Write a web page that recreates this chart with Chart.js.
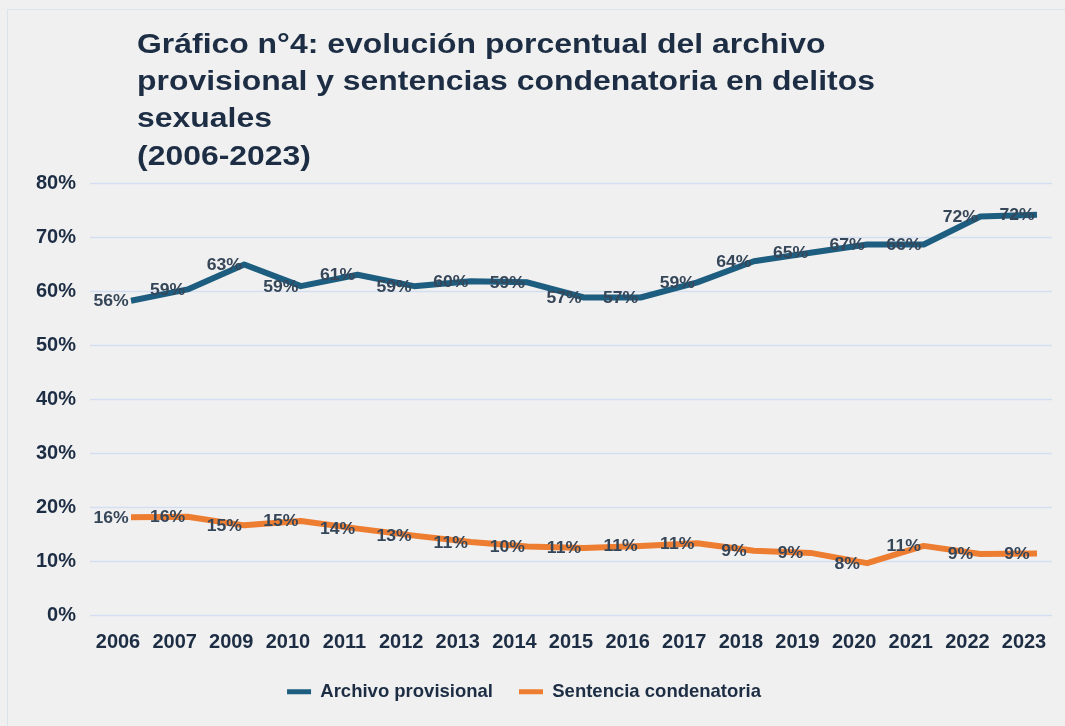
<!DOCTYPE html>
<html>
<head>
<meta charset="utf-8">
<script src="https://cdn.jsdelivr.net/npm/chart.js@4.4.1/dist/chart.umd.min.js"></script>
<style>
  html, body { margin: 0; padding: 0; background: #f0f0f0; }
  #wrap { position: relative; width: 1065px; height: 726px; }
  #frame { position: absolute; left: 7px; top: 9px; right: -2px; bottom: -2px; border-left: 1px solid #dbe3ef; border-top: 1px solid #dbe3ef; pointer-events: none; }
  canvas { position: absolute; left: 0; top: 0; }
</style>
</head>
<body>
<div id="wrap">
  <canvas id="c" width="1065" height="726"></canvas>
  <div id="frame"></div>
</div>
<script>
const titleLines = [
  "Gráfico n°4: evolución porcentual del archivo",
  "provisional y sentencias condenatoria en delitos",
  "sexuales",
  "(2006-2023)"
];
const years = ["2006","2007","2009","2010","2011","2012","2013","2014","2015","2016","2017","2018","2019","2020","2021","2022","2023"];
const seriesNames = ["Archivo provisional", "Sentencia condenatoria"];
const archivoValues = [58.2, 60.3, 64.9, 60.9, 63.0, 60.9, 61.8, 61.6, 58.8, 58.8, 61.6, 65.5, 67.1, 68.6, 68.6, 73.8, 74.1];
const archivoLabels = ["56%","59%","63%","59%","61%","59%","60%","59%","57%","57%","59%","64%","65%","67%","66%","72%","72%"];
const sentenciaValues = [18.1, 18.2, 16.6, 17.4, 16.0, 14.7, 13.5, 12.7, 12.4, 12.8, 13.3, 11.9, 11.5, 9.6, 12.8, 11.3, 11.4];
const sentenciaLabels = ["16%","16%","15%","15%","14%","13%","11%","10%","11%","11%","11%","9%","9%","8%","11%","9%","9%"];
const yTicks = [0, 10, 20, 30, 40, 50, 60, 70, 80];

const COLORS = ["#1d5d7f", "#ed7d31"];
const TEXT = "#1c2d44";
const FONT = "'Liberation Sans', Arial, sans-serif";

const titlePlugin = {
  id: "titleText",
  afterDraw(chart) {
    const ctx = chart.ctx;
    ctx.save();
    ctx.fillStyle = TEXT;
    ctx.font = "bold 28px " + FONT;
    ctx.textAlign = "left";
    ctx.textBaseline = "middle";
    ctx.translate(137, 0);
    ctx.scale(1.14, 1);
    titleLines.forEach((t, i) => ctx.fillText(t, 0, 45 + i * 37.3));
    ctx.restore();
  }
};

const gridPlugin = {
  id: "wideGrid",
  beforeDatasetsDraw(chart) {
    const ctx = chart.ctx;
    const y = chart.scales.y;
    ctx.save();
    ctx.strokeStyle = "#d3def0";
    ctx.lineWidth = 1.5;
    yTicks.forEach(v => {
      const py = Math.round(y.getPixelForValue(v)) + 0.5;
      ctx.beginPath();
      ctx.moveTo(90, py);
      ctx.lineTo(1052, py);
      ctx.stroke();
    });
    ctx.restore();
  }
};

const allLabels = [archivoLabels, sentenciaLabels];
const labelPlugin = {
  id: "pointLabels",
  afterDatasetsDraw(chart) {
    const ctx = chart.ctx;
    ctx.save();
    ctx.fillStyle = "#364659";
    ctx.font = "bold 16px " + FONT;
    ctx.textAlign = "center";
    ctx.textBaseline = "middle";
    chart.data.datasets.forEach((ds, di) => {
      const meta = chart.getDatasetMeta(di);
      meta.data.forEach((pt, i) => {
        ctx.save();
        ctx.translate(pt.x - 20, pt.y + 1);
        ctx.scale(1.1, 1);
        ctx.fillText(allLabels[di][i], 0, 0);
        ctx.restore();
      });
    });
    ctx.restore();
  }
};

new Chart(document.getElementById("c"), {
  type: "line",
  data: {
    labels: years,
    datasets: [
      { label: seriesNames[0], data: archivoValues, borderColor: COLORS[0], backgroundColor: COLORS[0], borderWidth: 6, pointRadius: 0, tension: 0, borderJoinStyle: "round" },
      { label: seriesNames[1], data: sentenciaValues, borderColor: COLORS[1], backgroundColor: COLORS[1], borderWidth: 6, pointRadius: 0, tension: 0, borderJoinStyle: "round" }
    ]
  },
  options: {
    responsive: false,
    animation: false,
    layout: { padding: { left: 0, right: 17, top: 183, bottom: 15 } },
    scales: {
      x: {
        type: "category",
        offset: false,
        grid: { display: false, drawTicks: false },
        border: { display: false },
        ticks: { color: TEXT, font: { family: FONT, size: 20, weight: "bold" }, padding: 15, labelOffset: -13, maxRotation: 0, autoSkip: false },
        afterFit(scale) { scale.height = 41.5; scale.paddingLeft = 0; scale.paddingRight = 0; }
      },
      y: {
        min: 0, max: 80,
        grid: { display: false, drawTicks: false },
        border: { display: false },
        ticks: { stepSize: 10, color: TEXT, font: { family: FONT, size: 20, weight: "bold" }, padding: 55, callback: v => v + "%" },
        afterFit(scale) { scale.width = 131; }
      },
      yRight: {
        position: "right",
        min: 0, max: 80,
        grid: { display: false, drawTicks: false },
        border: { display: false },
        ticks: { display: false },
        afterFit(scale) { scale.width = 11; }
      }
    },
    plugins: {
      title: { display: false },
      tooltip: { enabled: false },
      legend: {
        position: "bottom",
        labels: {
          color: TEXT,
          font: { family: FONT, size: 18.5, weight: "bold" },
          boxWidth: 24,
          boxHeight: 5,
          padding: 26,
          generateLabels(chart) {
            return chart.data.datasets.map((ds, i) => ({
              text: ds.label, fillStyle: ds.borderColor, strokeStyle: ds.borderColor, lineWidth: 0, hidden: false, datasetIndex: i, fontColor: TEXT
            }));
          }
        }
      }
    }
  },
  plugins: [gridPlugin, labelPlugin, titlePlugin]
});
</script>
</body>
</html>
